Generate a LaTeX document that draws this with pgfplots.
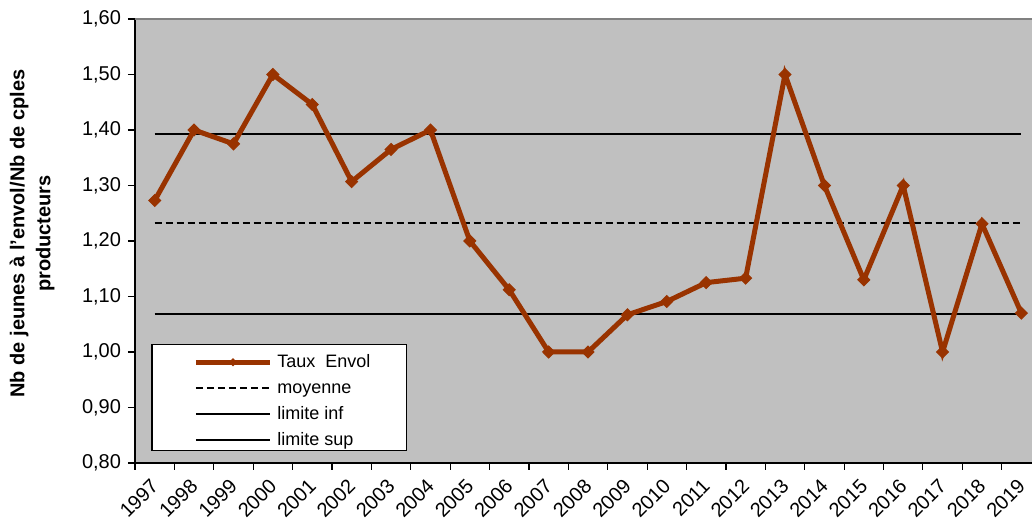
\documentclass[border=0pt]{standalone}
\usepackage{fontspec}
\setmainfont{Liberation Sans}
\usepackage{pgfplots}
\pgfplotsset{compat=1.18}
\definecolor{bggray}{HTML}{C0C0C0}
\definecolor{rust}{HTML}{993300}
\definecolor{topgray}{HTML}{808080}
\pgfplotsset{
  tauxlegend/.style={legend image code/.code={\draw[##1, mark size=1.2pt, mark repeat=2, mark phase=2] plot coordinates {(0pt,0pt) (18.5pt,0pt) (37pt,0pt)};}},
}
\begin{document}
\begin{tikzpicture}
\useasboundingbox (-67.5pt,-30pt) rectangle (448.5pt,231.5pt);
\begin{axis}[
  scale only axis, width=448.5pt, height=222pt,
  xmin=-0.5, xmax=22.27, ymin=0.8, ymax=1.6,
  axis x line*=bottom, axis y line*=left,
  axis line style={black, line width=0.8pt},
  axis background/.style={fill=bggray},
  xtick={0,1,2,3,4,5,6,7,8,9,10,11,12,13,14,15,16,17,18,19,20,21,22},
  xticklabels={1997,1998,1999,2000,2001,2002,2003,2004,2005,2006,2007,2008,2009,2010,2011,2012,2013,2014,2015,2016,2017,2018,2019},
  major x tick style={draw=none},
  minor xtick={-0.5,0.5,...,21.5},
  ytick={0.8,0.9,1.0,1.1,1.2,1.3,1.4,1.5,1.6},
  major tick length=3.5pt, minor tick length=3.5pt,
  tick align=outside,
  tick style={black, line width=0.6pt},
  /pgf/number format/assume math mode=true,
  tick label style={font=\fontsize{10}{12}\selectfont},
  yticklabel style={/pgf/number format/fixed, /pgf/number format/fixed zerofill, /pgf/number format/precision=2, /pgf/number format/use comma},
  xticklabel style={xshift=-2.5pt, yshift=-3.5pt, rotate=45, anchor=north east, inner sep=0pt},
  reverse legend,
  legend cell align=left,
  legend style={draw=none, fill=none, at={(rel axis cs:0.0647,0.248)}, anchor=north west,
    inner sep=0pt, row sep=4pt, font=\fontsize{9}{11}\selectfont,
    nodes={inner ysep=0pt, inner xsep=0pt, text height=7pt, text depth=2pt},
    /tikz/every odd column/.append style={column sep=2.5pt}},
  legend image code/.code={\draw[#1] (0pt,0pt) -- (37pt,0pt);},
]
\addplot[black, line width=1pt] coordinates {(0,1.393) (22,1.393)};
\addlegendentry{limite sup}
\addplot[black, line width=1pt] coordinates {(0,1.068) (22,1.068)};
\addlegendentry{limite inf}
\addplot[black, line width=1pt, dash pattern=on 3.5pt off 2pt] coordinates {(0,1.232) (22,1.232)};
\addlegendentry{moyenne}
\addplot[rust, line width=2.5pt, mark=square*, mark size=2.1pt, mark options={rotate=45, line width=0.5pt}, tauxlegend]
  coordinates {
  (0,1.273) (1,1.400) (2,1.375) (3,1.500) (4,1.446) (5,1.307) (6,1.365) (7,1.400)
  (8,1.200) (9,1.112) (10,1.000) (11,1.000) (12,1.067) (13,1.091) (14,1.125) (15,1.133)
  (16,1.500) (17,1.300) (18,1.130) (19,1.300) (20,1.000) (21,1.231) (22,1.070)};
\addlegendentry{Taux\ \ Envol}
\draw[black, fill=white, line width=0.6pt] (rel axis cs:0.019,0.029) rectangle (rel axis cs:0.303,0.266);
\draw[topgray, line width=1.2pt] (rel axis cs:0,1) -- (rel axis cs:1,1);
\end{axis}
\node[rotate=90, align=center, font=\bfseries\fontsize{10}{13}\selectfont] at (-51.5pt,114.7pt) {Nb de jeunes à l'envol/Nb de cples\\producteurs};
\end{tikzpicture}
\end{document}
